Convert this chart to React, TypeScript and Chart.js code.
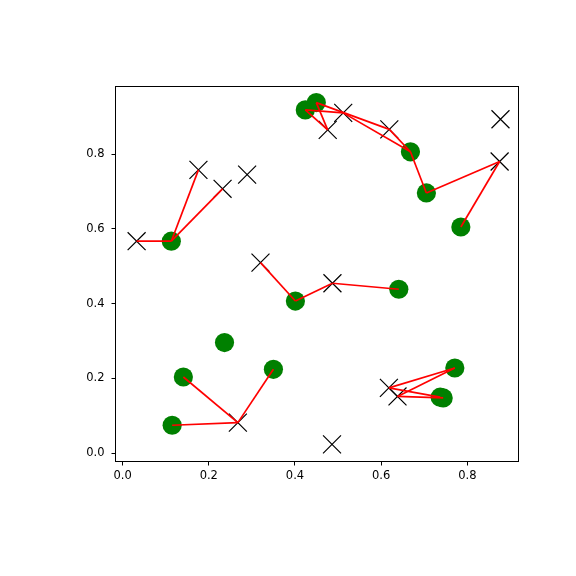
import { useEffect, useRef } from 'react';
import { Chart, registerables } from 'chart.js';

Chart.register(...registerables);

// green circles
const greenX = [0.113, 0.424, 0.4495, 0.668, 0.705, 0.785, 0.2365, 0.141, 0.115, 0.35, 0.401, 0.641, 0.771, 0.737, 0.744];
const greenY = [0.567, 0.918, 0.9375, 0.806, 0.696, 0.605, 0.296, 0.204, 0.075, 0.2245, 0.407, 0.4385, 0.228, 0.150, 0.148];

// black crosses
const crossX = [0.0325, 0.176, 0.232, 0.289, 0.32, 0.476, 0.512, 0.619, 0.877, 0.875, 0.487, 0.618, 0.638, 0.486, 0.2675];
const crossY = [0.567, 0.7575, 0.707, 0.745, 0.5096, 0.8645, 0.91, 0.866, 0.893, 0.78, 0.4545, 0.175, 0.152, 0.024, 0.082];

// red links: g = green index, x = cross index
const links: [string, string][] = [
  ['x0', 'g0'], ['g0', 'x1'], ['g0', 'x2'],
  ['x4', 'g10'], ['g10', 'x10'], ['x10', 'g11'],
  ['g7', 'x14'], ['g8', 'x14'], ['x14', 'g9'],
  ['g12', 'x11'], ['g12', 'x12'], ['g13', 'x11'], ['g14', 'x12'],
  ['g1', 'x6'], ['g1', 'x5'], ['g2', 'x5'], ['g2', 'x7'],
  ['x6', 'g3'], ['x7', 'g3'], ['g3', 'g4'], ['g4', 'x9'], ['x9', 'g5'],
];

const xTicks = [0.0, 0.2, 0.4, 0.6, 0.8];
const yTicks = [0.0, 0.2, 0.4, 0.6, 0.8];
const xRange = [-0.0165, 0.9188];
const yRange = [-0.0219, 0.9805];

function pt(ref: string) {
  const i = parseInt(ref.slice(1), 10);
  return ref[0] === 'g' ? { x: greenX[i], y: greenY[i] } : { x: crossX[i], y: crossY[i] };
}

const FONT = { family: 'DejaVu Sans', size: 11.5 };

export default function App() {
  const ref = useRef<HTMLCanvasElement | null>(null);
  useEffect(() => {
    if (!ref.current) return;
    const lineSets = links.map(([a, b]) => ({
      type: 'scatter' as const,
      data: [pt(a), pt(b)],
      showLine: true,
      borderColor: '#ff0000',
      backgroundColor: '#ff0000',
      borderWidth: 1.7,
      pointRadius: 0,
      order: 0,
    }));
    const frame = {
      id: 'frame',
      afterDraw(chart: any) {
        const { ctx, chartArea } = chart;
        ctx.save();
        ctx.strokeStyle = '#000';
        ctx.lineWidth = 1;
        ctx.strokeRect(chartArea.left, chartArea.top, chartArea.right - chartArea.left, chartArea.bottom - chartArea.top);
        ctx.restore();
      },
    };
    const chart = new Chart(ref.current, {
      type: 'scatter',
      data: {
        datasets: [
          ...lineSets,
          {
            data: crossX.map((x, i) => ({ x, y: crossY[i] })),
            pointStyle: 'crossRot',
            pointRadius: 12.7,
            borderColor: '#000000',
            backgroundColor: '#000000',
            borderWidth: 1.2,
            order: 1,
          },
          {
            data: greenX.map((x, i) => ({ x, y: greenY[i] })),
            pointStyle: 'circle',
            pointRadius: 9.6,
            borderWidth: 0,
            backgroundColor: '#008000',
            borderColor: '#008000',
            order: 2,
          },
        ] as any,
      },
      options: {
        responsive: false,
        animation: false,
        events: [],
        devicePixelRatio: 1,
        layout: { padding: { left: 0, top: 86.5, right: 57.5, bottom: 0 } },
        plugins: { legend: { display: false }, tooltip: { enabled: false } },
        scales: {
          x: {
            type: 'linear',
            min: xRange[0],
            max: xRange[1],
            afterFit: (s: any) => { s.height = 114.5; },
            afterBuildTicks: (s: any) => { s.ticks = xTicks.map((v) => ({ value: v })); },
            ticks: { callback: (v: any) => Number(v).toFixed(1), color: '#000', font: FONT, padding: 4, maxRotation: 0, autoSkip: false },
            grid: { drawOnChartArea: false, drawTicks: true, tickLength: 4, tickColor: '#000', tickWidth: 1 },
            border: { display: false },
          },
          y: {
            type: 'linear',
            min: yRange[0],
            max: yRange[1],
            afterFit: (s: any) => { s.width = 115.5; },
            afterBuildTicks: (s: any) => { s.ticks = yTicks.map((v) => ({ value: v })); },
            ticks: { callback: (v: any) => Number(v).toFixed(1), color: '#000', font: FONT, padding: 7, autoSkip: false },
            grid: { drawOnChartArea: false, drawTicks: true, tickLength: 4, tickColor: '#000', tickWidth: 1 },
            border: { display: false },
          },
        },
      },
      plugins: [frame],
    } as any);
    return () => chart.destroy();
  }, []);
  return (
    <div style={{ position: 'absolute', left: 0, top: 0, width: 576, height: 576, background: '#fff' }}>
      <canvas ref={ref} width={576} height={576} />
    </div>
  );
}
